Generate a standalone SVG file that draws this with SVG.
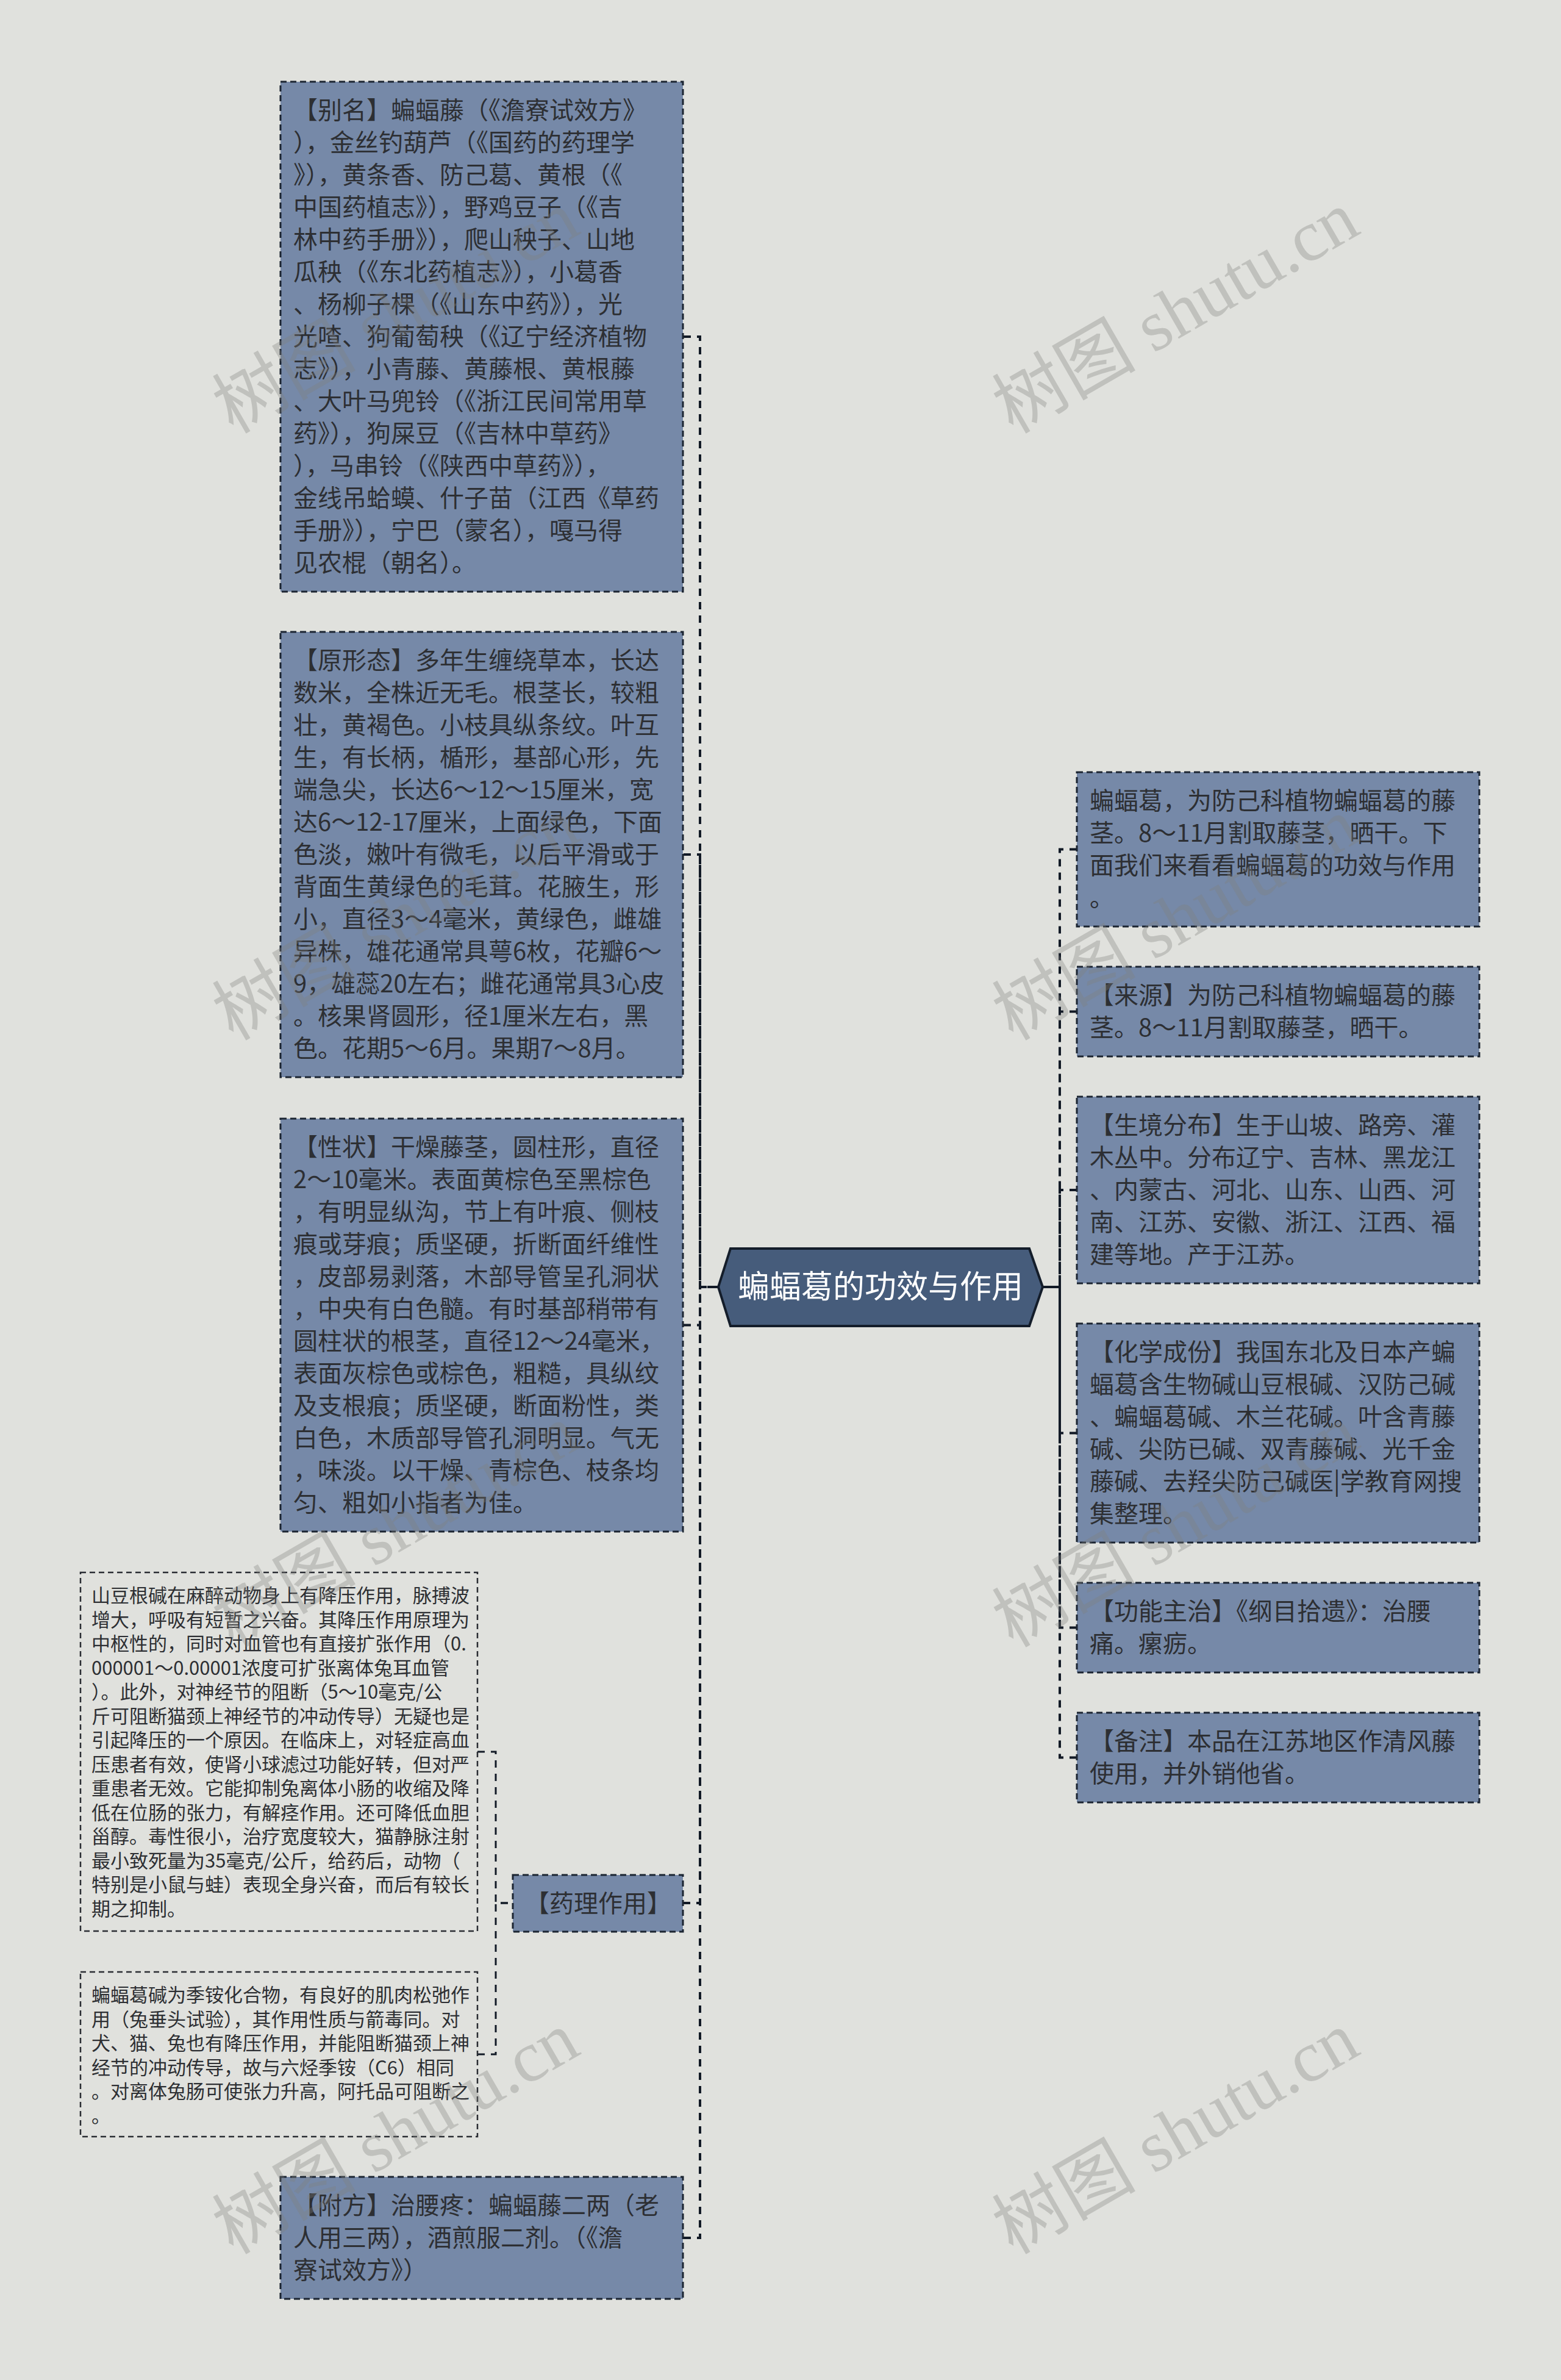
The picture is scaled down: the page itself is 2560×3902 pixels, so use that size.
<svg xmlns="http://www.w3.org/2000/svg" width="2560" height="3902" viewBox="0 0 2560 3902">
<style>
.bg{fill:#e0e1dd}
.node rect{fill:#7689a8;stroke:#1b2431;stroke-width:3;stroke-dasharray:10 6}
.sub rect{fill:none;stroke:#2a2d33;stroke-width:2.5;stroke-dasharray:9 6}
.t{font-family:"Noto Sans CJK SC","Liberation Sans",sans-serif;font-size:40px;fill:#2d2f33}
.ts{font-size:31px}
.conn path{fill:none;stroke:#121a26;stroke-width:4;stroke-dasharray:12 10}
.conn path.s{stroke-width:3}
.wm{font-family:"Liberation Serif","Noto Sans CJK SC",serif;font-size:118px;fill:#7e7f7c;fill-opacity:0.33}
</style>
<rect class="bg" x="0" y="0" width="2560" height="3902"/>

<g id="connectors" class="conn">
  <path d="M1121,552 H1148 V2110 H1178"/>
  <path d="M1121,1401 H1148 V2110 H1178"/>
  <path d="M1121,2172.5 H1148 V2110 H1178"/>
  <path d="M1120,3120 H1148 V2110 H1178"/>
  <path d="M1121,3669 H1148 V2110 H1178"/>
  <path d="M1766,1392.5 H1738 V2110 H1710"/>
  <path d="M1766,1658.5 H1738 V2110 H1710"/>
  <path d="M1766,1951 H1738 V2110 H1710"/>
  <path d="M1766,2349.5 H1738 V2110 H1710"/>
  <path d="M1766,2668.5 H1738 V2110 H1710"/>
  <path d="M1766,2881.5 H1738 V2110 H1710"/>
  <path class="s" d="M783,2872 H813 V3120 H841"/>
  <path class="s" d="M783,3368 H813 V3120 H841"/>
</g>

<g id="center">
  <polygon points="1178,2110 1198,2047 1688,2047 1710,2110 1688,2174 1198,2174" fill="#465c7b" stroke="#141d2a" stroke-width="4"/>
  <text x="1444" y="2128" text-anchor="middle" style="font-family:'Noto Sans CJK SC','Liberation Sans',sans-serif;font-size:52px;fill:#ffffff">蝙蝠葛的功效与作用</text>
</g>

<g id="n-bieming" class="node">
  <rect x="460" y="134" width="660" height="836"/>
  <text class="t" x="481" y="195"><tspan x="481">【别名】蝙蝠藤（《澹寮试效方》</tspan><tspan x="481" dy="53">），金丝钓葫芦（《国药的药理学</tspan><tspan x="481" dy="53">》），黄条香、防己葛、黄根（《</tspan><tspan x="481" dy="53">中国药植志》），野鸡豆子（《吉</tspan><tspan x="481" dy="53">林中药手册》），爬山秧子、山地</tspan><tspan x="481" dy="53">瓜秧（《东北药植志》），小葛香</tspan><tspan x="481" dy="53">、杨柳子棵（《山东中药》），光</tspan><tspan x="481" dy="53">光喳、狗葡萄秧（《辽宁经济植物</tspan><tspan x="481" dy="53">志》），小青藤、黄藤根、黄根藤</tspan><tspan x="481" dy="53">、大叶马兜铃（《浙江民间常用草</tspan><tspan x="481" dy="53">药》），狗屎豆（《吉林中草药》</tspan><tspan x="481" dy="53">），马串铃（《陕西中草药》），</tspan><tspan x="481" dy="53">金线吊蛤蟆、什子苗（江西《草药</tspan><tspan x="481" dy="53">手册》），宁巴（蒙名），嘎马得</tspan><tspan x="481" dy="53">见农棍（朝名）。</tspan></text>
</g>

<g id="n-xingtai" class="node">
  <rect x="460" y="1036" width="660" height="730"/>
  <text class="t" x="481" y="1097"><tspan x="481">【原形态】多年生缠绕草本，长达</tspan><tspan x="481" dy="53">数米，全株近无毛。根茎长，较粗</tspan><tspan x="481" dy="53">壮，黄褐色。小枝具纵条纹。叶互</tspan><tspan x="481" dy="53">生，有长柄，楯形，基部心形，先</tspan><tspan x="481" dy="53">端急尖，长达6～12～15厘米，宽</tspan><tspan x="481" dy="53">达6～12-17厘米，上面绿色，下面</tspan><tspan x="481" dy="53">色淡，嫩叶有微毛，以后平滑或于</tspan><tspan x="481" dy="53">背面生黄绿色的毛茸。花腋生，形</tspan><tspan x="481" dy="53">小，直径3～4毫米，黄绿色，雌雄</tspan><tspan x="481" dy="53">异株，雄花通常具萼6枚，花瓣6～</tspan><tspan x="481" dy="53">9，雄蕊20左右；雌花通常具3心皮</tspan><tspan x="481" dy="53">。核果肾圆形，径1厘米左右，黑</tspan><tspan x="481" dy="53">色。花期5～6月。果期7～8月。</tspan></text>
</g>

<g id="n-xingzhuang" class="node">
  <rect x="460" y="1834" width="660" height="677"/>
  <text class="t" x="481" y="1895"><tspan x="481">【性状】干燥藤茎，圆柱形，直径</tspan><tspan x="481" dy="53">2～10毫米。表面黄棕色至黑棕色</tspan><tspan x="481" dy="53">，有明显纵沟，节上有叶痕、侧枝</tspan><tspan x="481" dy="53">痕或芽痕；质坚硬，折断面纤维性</tspan><tspan x="481" dy="53">，皮部易剥落，木部导管呈孔洞状</tspan><tspan x="481" dy="53">，中央有白色髓。有时基部稍带有</tspan><tspan x="481" dy="53">圆柱状的根茎，直径12～24毫米，</tspan><tspan x="481" dy="53">表面灰棕色或棕色，粗糙，具纵纹</tspan><tspan x="481" dy="53">及支根痕；质坚硬，断面粉性，类</tspan><tspan x="481" dy="53">白色，木质部导管孔洞明显。气无</tspan><tspan x="481" dy="53">，味淡。以干燥、青棕色、枝条均</tspan><tspan x="481" dy="53">匀、粗如小指者为佳。</tspan></text>
</g>

<g id="n-yaoli" class="node">
  <rect x="841" y="3074" width="279" height="93"/>
  <text class="t" x="861" y="3135">【药理作用】</text>
</g>

<g id="n-yaoli-1" class="sub">
  <rect x="132" y="2578" width="651" height="588"/>
  <text class="t ts" x="150" y="2627"><tspan x="150">山豆根碱在麻醉动物身上有降压作用，脉搏波</tspan><tspan x="150" dy="39.5">增大，呼吸有短暂之兴奋。其降压作用原理为</tspan><tspan x="150" dy="39.5">中枢性的，同时对血管也有直接扩张作用（0.</tspan><tspan x="150" dy="39.5">000001～0.00001浓度可扩张离体兔耳血管</tspan><tspan x="150" dy="39.5">）。此外，对神经节的阻断（5～10毫克/公</tspan><tspan x="150" dy="39.5">斤可阻断猫颈上神经节的冲动传导）无疑也是</tspan><tspan x="150" dy="39.5">引起降压的一个原因。在临床上，对轻症高血</tspan><tspan x="150" dy="39.5">压患者有效，使肾小球滤过功能好转，但对严</tspan><tspan x="150" dy="39.5">重患者无效。它能抑制兔离体小肠的收缩及降</tspan><tspan x="150" dy="39.5">低在位肠的张力，有解痉作用。还可降低血胆</tspan><tspan x="150" dy="39.5">甾醇。毒性很小，治疗宽度较大，猫静脉注射</tspan><tspan x="150" dy="39.5">最小致死量为35毫克/公斤，给药后，动物（</tspan><tspan x="150" dy="39.5">特别是小鼠与蛙）表现全身兴奋，而后有较长</tspan><tspan x="150" dy="39.5">期之抑制。</tspan></text>
</g>

<g id="n-yaoli-2" class="sub">
  <rect x="132" y="3233" width="651" height="270"/>
  <text class="t ts" x="150" y="3282"><tspan x="150">蝙蝠葛碱为季铵化合物，有良好的肌肉松弛作</tspan><tspan x="150" dy="39.5">用（兔垂头试验），其作用性质与箭毒同。对</tspan><tspan x="150" dy="39.5">犬、猫、兔也有降压作用，并能阻断猫颈上神</tspan><tspan x="150" dy="39.5">经节的冲动传导，故与六烃季铵（C6）相同</tspan><tspan x="150" dy="39.5">。对离体兔肠可使张力升高，阿托品可阻断之</tspan><tspan x="150" dy="39.5">。</tspan></text>
</g>

<g id="n-fufang" class="node">
  <rect x="460" y="3569" width="660" height="200"/>
  <text class="t" x="481" y="3630"><tspan x="481">【附方】治腰疼：蝙蝠藤二两（老</tspan><tspan x="481" dy="53">人用三两），酒煎服二剂。（《澹</tspan><tspan x="481" dy="53">寮试效方》）</tspan></text>
</g>

<g id="n-intro" class="node">
  <rect x="1766" y="1266" width="660" height="253"/>
  <text class="t" x="1787" y="1327"><tspan x="1787">蝙蝠葛，为防己科植物蝙蝠葛的藤</tspan><tspan x="1787" dy="53">茎。8～11月割取藤茎，晒干。下</tspan><tspan x="1787" dy="53">面我们来看看蝙蝠葛的功效与作用</tspan><tspan x="1787" dy="53">。</tspan></text>
</g>

<g id="n-laiyuan" class="node">
  <rect x="1766" y="1585" width="660" height="147"/>
  <text class="t" x="1787" y="1646"><tspan x="1787">【来源】为防己科植物蝙蝠葛的藤</tspan><tspan x="1787" dy="53">茎。8～11月割取藤茎，晒干。</tspan></text>
</g>

<g id="n-shengjing" class="node">
  <rect x="1766" y="1798" width="660" height="306"/>
  <text class="t" x="1787" y="1859"><tspan x="1787">【生境分布】生于山坡、路旁、灌</tspan><tspan x="1787" dy="53">木丛中。分布辽宁、吉林、黑龙江</tspan><tspan x="1787" dy="53">、内蒙古、河北、山东、山西、河</tspan><tspan x="1787" dy="53">南、江苏、安徽、浙江、江西、福</tspan><tspan x="1787" dy="53">建等地。产于江苏。</tspan></text>
</g>

<g id="n-huaxue" class="node">
  <rect x="1766" y="2170" width="660" height="359"/>
  <text class="t" x="1787" y="2231"><tspan x="1787">【化学成份】我国东北及日本产蝙</tspan><tspan x="1787" dy="53">蝠葛含生物碱山豆根碱、汉防己碱</tspan><tspan x="1787" dy="53">、蝙蝠葛碱、木兰花碱。叶含青藤</tspan><tspan x="1787" dy="53">碱、尖防已碱、双青藤碱、光千金</tspan><tspan x="1787" dy="53">藤碱、去羟尖防己碱医|学教育网搜</tspan><tspan x="1787" dy="53">集整理。</tspan></text>
</g>

<g id="n-gongneng" class="node">
  <rect x="1766" y="2595" width="660" height="147"/>
  <text class="t" x="1787" y="2656"><tspan x="1787">【功能主治】《纲目拾遗》：治腰</tspan><tspan x="1787" dy="53">痛。瘰疬。</tspan></text>
</g>

<g id="n-beizhu" class="node">
  <rect x="1766" y="2808" width="660" height="147"/>
  <text class="t" x="1787" y="2869"><tspan x="1787">【备注】本品在江苏地区作清风藤</tspan><tspan x="1787" dy="53">使用，并外销他省。</tspan></text>
</g>

<g id="watermarks">
  <text class="wm" text-anchor="middle" transform="translate(649,512) rotate(-30)" y="40">树图 shutu.cn</text>
  <text class="wm" text-anchor="middle" transform="translate(1928,512) rotate(-30)" y="40">树图 shutu.cn</text>
  <text class="wm" text-anchor="middle" transform="translate(649,1507) rotate(-30)" y="40">树图 shutu.cn</text>
  <text class="wm" text-anchor="middle" transform="translate(1928,1507) rotate(-30)" y="40">树图 shutu.cn</text>
  <text class="wm" text-anchor="middle" transform="translate(649,2502) rotate(-30)" y="40">树图 shutu.cn</text>
  <text class="wm" text-anchor="middle" transform="translate(1928,2502) rotate(-30)" y="40">树图 shutu.cn</text>
  <text class="wm" text-anchor="middle" transform="translate(649,3497) rotate(-30)" y="40">树图 shutu.cn</text>
  <text class="wm" text-anchor="middle" transform="translate(1928,3497) rotate(-30)" y="40">树图 shutu.cn</text>
</g>
</svg>
